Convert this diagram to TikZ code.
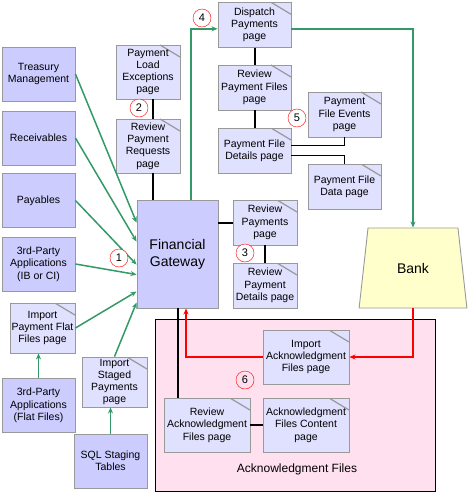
\documentclass[tikz,border=0pt]{standalone}
\usepackage{fontspec}
\setmainfont{Liberation Sans}
\usetikzlibrary{arrows.meta,positioning,shapes.geometric}
\definecolor{srcfill}{RGB}{204,204,255}
\definecolor{pagefill}{RGB}{224,224,255}
\definecolor{edgegray}{RGB}{153,153,153}
\definecolor{flowgreen}{RGB}{51,153,102}
\definecolor{ackpink}{RGB}{255,224,238}
\definecolor{bankyellow}{RGB}{255,255,204}
\begin{document}
\begin{tikzpicture}[x=1pt, y=-1pt,
  src/.style={draw=edgegray, line width=0.9pt, fill=srcfill, align=center, inner sep=1pt,
    font=\fontsize{10.5}{12.3}\selectfont},
  pg/.style={src, fill=pagefill, path picture={
    \draw[edgegray, line width=1.2pt] ([xshift=-20pt]path picture bounding box.north east)
      -- ([yshift=-12pt]path picture bounding box.north east);}},
  num/.style={circle, draw=red, fill=white, minimum size=18pt, inner sep=0pt,
    font=\fontsize{11}{13}\selectfont},
  garr/.style={-{Stealth[length=6pt,width=5pt]}, draw=flowgreen, line width=1.5pt},
  rarr/.style={-{Stealth[length=6pt,width=5pt]}, draw=red, line width=2.2pt},
  link/.style={line width=2pt},
  thinlink/.style={line width=1pt}
]
\useasboundingbox (0,0) rectangle (469,492);

% acknowledgment area
\node[draw, line width=1pt, fill=ackpink, minimum width=280pt, minimum height=172pt] (ackarea) at (295,405) {};
\node[font=\fontsize{12}{14}\selectfont] (acklbl) at (297,469) {Acknowledgment Files};

% sources
\node[src, minimum width=73pt, minimum height=54pt] (treas) at (38.5,74) {Treasury\\Management};
\node[src, minimum width=73pt, minimum height=54pt] (recv) at (38.5,138) {Receivables};
\node[src, minimum width=73pt, minimum height=54pt] (pay) at (38.5,200.5) {Payables};
\node[src, minimum width=73pt, minimum height=54pt] (tpa) at (38.5,264) {3rd-Party\\Applications\\(IB or CI)};
\node[pg, minimum width=65pt, minimum height=50pt] (ipff) at (42.5,328) {Import\\Payment Flat\\Files page};
\node[src, minimum width=73pt, minimum height=54pt] (tpff) at (38.5,405.5) {3rd-Party\\Applications\\(Flat Files)};
\node[pg, minimum width=65pt, minimum height=50pt] (isp) at (114.5,382) {Import\\Staged\\Payments\\page};
\node[src, minimum width=73pt, minimum height=54pt] (sql) at (110.5,461) {SQL Staging\\Tables};

% gateway and payment pages
\node[pg, minimum width=64pt, minimum height=54pt] (ple) at (148,72) {Payment\\Load\\Exceptions\\page};
\node[pg, minimum width=64pt, minimum height=54pt] (rpr) at (148,146) {Review\\Payment\\Requests\\page};
\node[src, minimum width=81pt, minimum height=108pt, font=\fontsize{14}{17}\selectfont] (fg) at (177.5,254) {Financial\\Gateway};
\node[pg, minimum width=73pt, minimum height=45pt] (disp) at (254.5,24.8) {Dispatch\\Payments\\page};
\node[pg, minimum width=73pt, minimum height=45pt] (rpf) at (254.5,87.5) {Review\\Payment Files\\page};
\node[pg, minimum width=73pt, minimum height=45pt] (pfd) at (254.5,150.5) {Payment File\\Details page};
\node[pg, minimum width=73pt, minimum height=45pt] (pfe) at (344.5,114.5) {Payment\\File Events\\page};
\node[pg, minimum width=73pt, minimum height=45pt] (pfdata) at (344.5,186.5) {Payment File\\Data page};
\node[pg, minimum width=64pt, minimum height=45pt] (rpay) at (265,222.5) {Review\\Payments\\page};
\node[pg, minimum width=64pt, minimum height=45pt] (rpd) at (265,285.5) {Review\\Payment\\Details page};
\node[trapezium, draw=edgegray, line width=0.9pt, fill=bankyellow, trapezium stretches=true,
  trapezium left angle=77.3, trapezium right angle=77.3, minimum width=108pt, minimum height=80pt,
  font=\fontsize{14}{17}\selectfont] (bank) at (413,268) {Bank};

% acknowledgment pages
\node[pg, minimum width=86pt, minimum height=54pt] (iack) at (306,357) {Import\\Acknowledgment\\Files page};
\node[pg, minimum width=86pt, minimum height=54pt] (rack) at (207,425) {Review\\Acknowledgment\\Files page};
\node[pg, minimum width=86pt, minimum height=54pt] (ackc) at (306,425) {Acknowledgment\\Files Content\\page};

% green flows into the gateway
\draw[garr] (treas.east) -- ([yshift=-23pt]fg.north west);
\draw[garr] (recv.east) -- ([yshift=-42pt]fg.north west);
\draw[garr] (pay.east) -- ([yshift=-65pt]fg.north west);
\draw[garr] (tpa.east) -- ([yshift=-75pt]fg.north west);
\draw[garr] (ipff.east) -- ([yshift=-92pt]fg.north west);
\draw[garr] (isp.north) -- ([yshift=-103pt]fg.north west);
\draw[garr] (tpff.north) -- (tpff.north |- ipff.south);
\draw[garr] (sql.north) -- (sql.north |- isp.south);
\draw[garr] ([xshift=13.5pt]fg.north) |- ([yshift=-4pt]disp.west);
\draw[garr] ([yshift=-4pt]disp.east) -| (bank.north);

% page links
\draw[link] ([xshift=5pt]ple.south) -- ([xshift=5pt]rpr.north);
\draw[link] ([xshift=5pt]rpr.south) -- ([xshift=5pt]rpr.south |- fg.north);
\draw[link] (disp.south) -- (rpf.north);
\draw[link] (rpf.south) -- (pfd.north);
\draw[thinlink] ([yshift=5.5pt]pfd.east) -| (pfe.south);
\draw[thinlink] ([yshift=-4.5pt]pfd.east) -| (pfdata.north);
\draw[link] (fg.east |- rpay.west) -- (rpay.west);
\draw[link] (rpay.south) -- (rpd.north);
\draw[link] (fg.south) -- (fg.south |- rack.north);
\draw[link] (rack.east) -- (ackc.west);

% acknowledgment return
\draw[rarr] (bank.south) |- (iack.east);
\draw[rarr] (iack.west) -| ([xshift=8.5pt]fg.south);

% step numbers
\node[num] (n1) at (119,258) {1};
\node[num] (n2) at (139,108) {2};
\node[num] (n3) at (245,253) {3};
\node[num] (n4) at (202,18) {4};
\node[num] (n5) at (297,118) {5};
\node[num, fill=none] (n6) at (245,380) {6};
\end{tikzpicture}
\end{document}
